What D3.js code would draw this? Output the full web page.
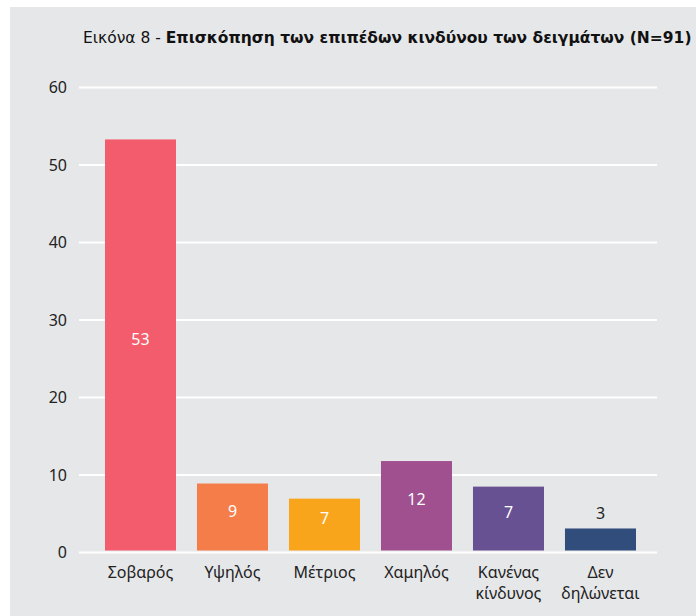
<!DOCTYPE html>
<html><head><meta charset="utf-8">
<script src="https://cdn.jsdelivr.net/npm/d3@7"></script>
<style>body{margin:0;background:#fff}svg{display:block}text{font-family:"Noto Sans",sans-serif}</style>
</head><body>
<script>
const categories = [["Σοβαρός"], ["Υψηλός"], ["Μέτριος"], ["Χαμηλός"], ["Κανένας","κίνδυνος"], ["Δεν","δηλώνεται"]];
const values = [53.3, 8.9, 6.95, 11.8, 8.5, 3.1];
const valueLabels = ["53", "9", "7", "12", "7", "3"];
const colors = ["#f25c6c", "#f47d4a", "#f9a51c", "#a0508f", "#675193", "#314d7c"];
const yTicks = [0, 10, 20, 30, 40, 50, 60];
const titleNormal = "Εικόνα 8 - ";
const titleBold = "Επισκόπηση των επιπέδων κινδύνου των δειγμάτων (N=91)";

const W = 696, H = 616;
const svg = d3.select("body").append("svg").attr("width", W).attr("height", H);
svg.append("rect").attr("x", 10).attr("y", 7).attr("width", W - 10).attr("height", H - 7).attr("fill", "#e6e7e9");

const x = d3.scaleBand().domain(d3.range(categories.length)).range([79, 657])
  .paddingInner(0.228).paddingOuter(0.2554).align(0.553);
const y = d3.scaleLinear().domain([0, 60]).range([552.5, 87.5]);

// y axis labels
const yAxis = d3.axisLeft(y).tickValues(yTicks).tickSize(0).tickPadding(12);
const gy = svg.append("g").attr("transform", "translate(79,0)").call(yAxis);
gy.select(".domain").remove();
gy.selectAll("text").attr("font-size", 16).attr("fill", "#222").style("font-family", "'Noto Sans',sans-serif");
// grid
svg.append("g").selectAll("line").data(yTicks).join("line")
  .attr("x1", 79).attr("x2", 657).attr("y1", d => y(d)).attr("y2", d => y(d))
  .attr("stroke", "#fff").attr("stroke-width", 2);

// bars
svg.append("g").selectAll("rect").data(values).join("rect")
  .attr("x", (d, i) => x(i)).attr("width", x.bandwidth())
  .attr("y", d => y(d)).attr("height", d => y(0) - 2 - y(d))
  .attr("fill", (d, i) => colors[i]);

// value labels
const small = d => (y(0) - y(d)) < 30;
svg.append("g").selectAll("text").data(values).join("text")
  .attr("x", (d, i) => x(i) + x.bandwidth() / 2)
  .attr("y", d => small(d) ? y(d) - 15 : (y(d) + y(0) - 2) / 2 - 6)
  .attr("dy", "0.35em")
  .attr("text-anchor", "middle").attr("font-size", 16)
  .attr("fill", d => small(d) ? "#222" : "#fff")
  .text((d, i) => valueLabels[i]);

// category labels
const cl = svg.append("g").selectAll("text").data(categories).join("text")
  .attr("x", (d, i) => x(i) + x.bandwidth() / 2)
  .attr("y", 578).attr("text-anchor", "middle").attr("font-size", 16).attr("fill", "#222");
cl.selectAll("tspan").data(d => d).join("tspan")
  .attr("x", function () { return d3.select(this.parentNode).attr("x"); })
  .attr("dy", (d, j) => j === 0 ? 0 : 21).text(d => d);

// title
const t = svg.append("text").attr("x", 83).attr("y", 43).attr("font-size", 15.5).attr("fill", "#111")
  .style("font-family", "'DejaVu Sans',sans-serif");
t.append("tspan").text(titleNormal);
t.append("tspan").attr("font-weight", "bold").text(titleBold);
</script>
</body></html>
